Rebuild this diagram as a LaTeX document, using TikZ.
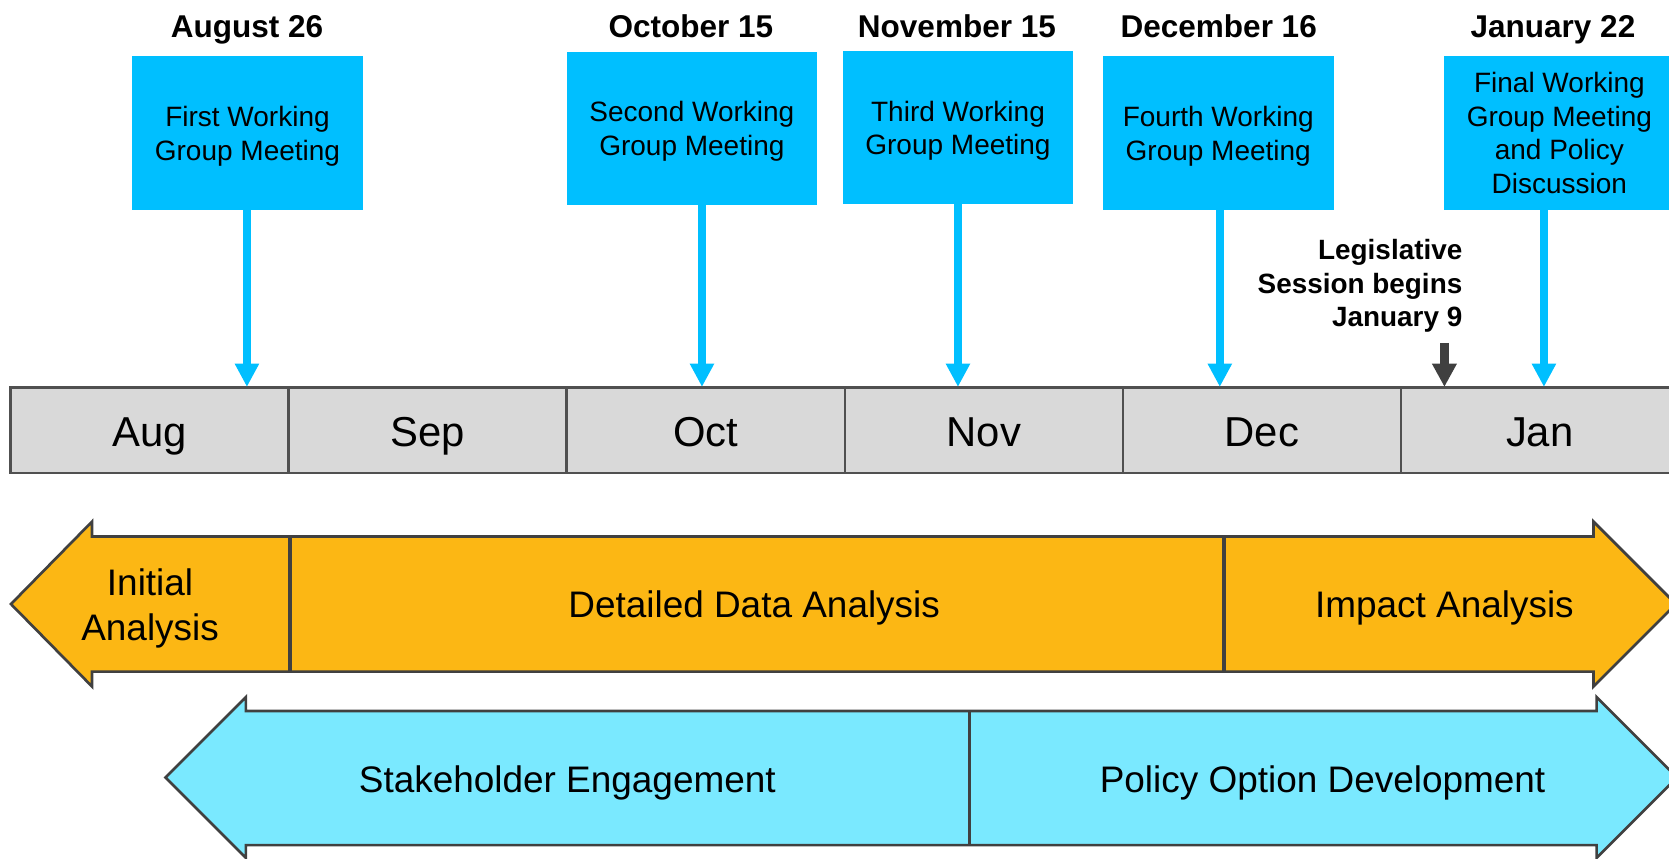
\documentclass[tikz,border=0pt]{standalone}
\usepackage{fontspec}
\setmainfont{Liberation Sans}
\usetikzlibrary{arrows.meta}
\definecolor{boxcyan}{RGB}{0,191,255}
\definecolor{orangefill}{RGB}{252,183,20}
\definecolor{lightcyan}{RGB}{122,233,255}
\definecolor{bargray}{RGB}{217,217,217}
\definecolor{edgegray}{RGB}{64,64,64}
\definecolor{barline}{RGB}{80,80,80}
\begin{document}
\begin{tikzpicture}[x=1pt,y=-1pt,
  wgbox/.style={fill=boxcyan, inner sep=0pt, align=center, font=\fontsize{26.3}{31.6}\selectfont},
  twoline/.style={text depth=-3pt},
  datelabel/.style={anchor=base, inner sep=0pt, font=\fontsize{29.6}{35}\selectfont\bfseries},
  monthcell/.style={draw=barline, fill=bargray, line width=2.3pt, minimum width=261.2pt, minimum height=80.5pt, inner sep=0pt, text height=31.4pt, text depth=0pt, font=\fontsize{39.3}{47}\selectfont},
  meetarrow/.style={draw=boxcyan, line width=7.8pt, -{Triangle[width=21.6pt,length=22pt]}},
  sessarrow/.style={draw=edgegray, line width=8.5pt, -{Triangle[width=22pt,length=22pt]}},
  phaseline/.style={draw=edgegray, line width=2.5pt, line join=miter},
  phasediv/.style={draw=edgegray, line width=3.1pt},
  phasetext/.style={inner sep=0pt, font=\fontsize{34.7}{42}\selectfont},
]
\useasboundingbox (0,0) rectangle (1568,807);
\clip (0,0) rectangle (1568,807);

% ---- month bar ----
\node[monthcell] (aug) at (140.6,404.1) {Aug};
\node[monthcell] (sep) at (401.8,404.1) {Sep};
\node[monthcell] (oct) at (663.0,404.1) {Oct};
\node[monthcell] (nov) at (924.2,404.1) {Nov};
\node[monthcell] (dec) at (1185.4,404.1) {Dec};
\node[monthcell] (jan) at (1446.6,404.1) {Jan};

% arrow targets on the bar top
\coordinate (t1) at (232,363.5);
\coordinate (t2) at (659.5,363.5);
\coordinate (t3) at (900,363.5);
\coordinate (t4) at (1146,363.5);
\coordinate (t5) at (1450.5,363.5);
\coordinate (g1) at (1357,363.5);
\coordinate (g0) at (1357,322);

% ---- meeting boxes ----
\node[wgbox, twoline, minimum width=217pt, minimum height=144.7pt] (b1) at (232.5,125) {First Working\\Group Meeting};
\node[wgbox, twoline, minimum width=235pt, minimum height=144pt] (b2) at (650,120.6) {Second Working\\Group Meeting};
\node[wgbox, twoline, minimum width=216pt, minimum height=144pt] (b3) at (900,120) {Third Working\\Group Meeting};
\node[wgbox, twoline, minimum width=217pt, minimum height=144.5pt] (b4) at (1144.5,125) {Fourth Working\\Group Meeting};
\node[wgbox, minimum width=217pt, minimum height=144.7pt] (b5) at (1465,125) {Final Working\\Group Meeting\\and Policy\\Discussion};

% ---- dates ----
\node[datelabel] (d1) at (232,35.5) {August 26};
\node[datelabel] (d2) at (649,35.5) {October 15};
\node[datelabel] (d3) at (899,35.5) {November 15};
\node[datelabel] (d4) at (1145,35.5) {December 16};
\node[datelabel] (d5) at (1459,35.5) {January 22};

% ---- meeting arrows ----
\draw[meetarrow] ([yshift=1pt]b1.south -| t1) -- (t1);
\draw[meetarrow] ([yshift=1pt]b2.south -| t2) -- (t2);
\draw[meetarrow] ([yshift=1pt]b3.south -| t3) -- (t3);
\draw[meetarrow] ([yshift=1pt]b4.south -| t4) -- (t4);
\draw[meetarrow] ([yshift=1pt]b5.south -| t5) -- (t5);

% ---- legislative session ----
\node[anchor=east, align=right, inner sep=0pt, font=\fontsize{26.2}{31.6}\selectfont\bfseries] (leg) at (1374,268.5) {Legislative\\Session begins\\January 9};
\draw[sessarrow] (g0) -- (g1);

% ---- orange phase arrow ----
\path[fill=orangefill] (10.3,567.5) -- (86.5,490) -- (86.5,504) -- (1497,504) -- (1497,490) -- (1574.5,567.5) -- (1497,645) -- (1497,631) -- (86.5,631) -- (86.5,645) -- cycle;
\draw[phasediv] (272.5,504) -- (272.5,631);
\draw[phasediv] (1150,504) -- (1150,631);
\draw[phaseline] (10.3,567.5) -- (86.5,490) -- (86.5,504) -- (1497,504) -- (1497,490) -- (1574.5,567.5) -- (1497,645) -- (1497,631) -- (86.5,631) -- (86.5,645) -- cycle;
\node[phasetext, align=center] (ia) at (141,571.4) {Initial\\Analysis};
\node[phasetext, anchor=base] (dda) at (708.5,580) {Detailed Data Analysis};
\node[phasetext, anchor=base] (ima) at (1357,580.5) {Impact Analysis};

% ---- blue phase arrow ----
\path[fill=lightcyan] (155.5,730.5) -- (231,655) -- (231,668) -- (1500,668) -- (1500,655) -- (1575.5,730.5) -- (1500,806) -- (1500,794) -- (231,794) -- (231,806) -- cycle;
\draw[phasediv] (911,668) -- (911,794);
\draw[phaseline] (155.5,730.5) -- (231,655) -- (231,668) -- (1500,668) -- (1500,655) -- (1575.5,730.5) -- (1500,806) -- (1500,794) -- (231,794) -- (231,806) -- cycle;
\node[phasetext, anchor=base] (se) at (533,744.5) {Stakeholder Engagement};
\node[phasetext, anchor=base] (pod) at (1242.5,744.5) {Policy Option Development};
\end{tikzpicture}
\end{document}
